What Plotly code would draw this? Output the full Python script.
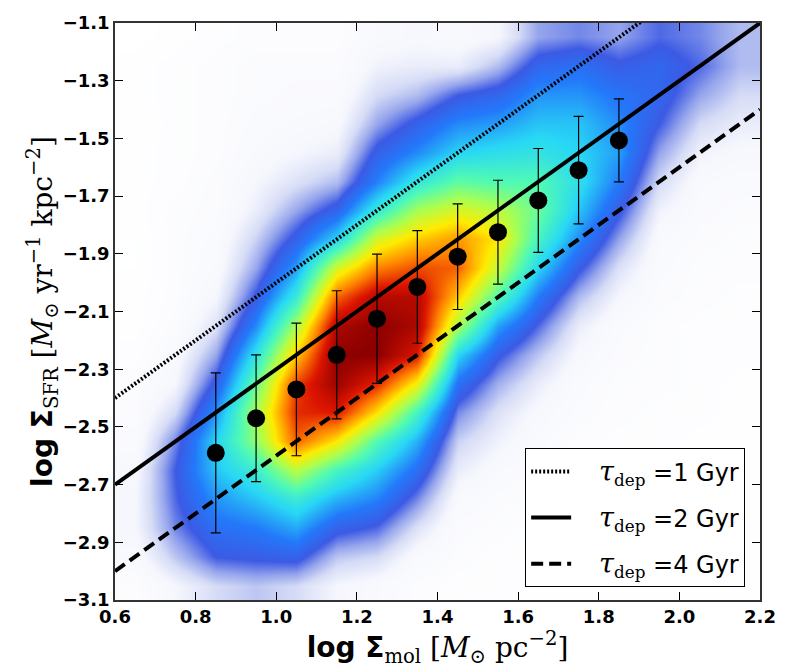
import plotly.graph_objects as go

# ---- density of the scatter cloud (levels 0..10) ----
# cell centres
grid_x = [0.65, 0.75, 0.85, 0.95, 1.05, 1.15, 1.25, 1.35, 1.45, 1.55, 1.65, 1.75, 1.85, 1.95, 2.05, 2.15]
grid_y_top_down = [-1.15, -1.25, -1.35, -1.45, -1.55, -1.65, -1.75, -1.85, -1.95, -2.05,
                   -2.15, -2.25, -2.35, -2.45, -2.55, -2.65, -2.75, -2.85, -2.95, -3.05]
# one list per column (top -> bottom)
col_065 = [0, 0.1, 0.1, 0.05, 0.1, 0.1, 0.1, 0.05, 0.05, 0.1, 0.1, 0.2, 0.3, 0.4, 0.5, 0.7, 0.8, 0.8, 0.6, 0.3]
col_075 = [0.1, 0.2, 0.2, 0.2, 0.2, 0.2, 0.3, 0.3, 0.3, 0.3, 0.4, 0.6, 0.8, 1.3, 2.0, 2.3, 2.2, 2.0, 1.5, 0.8]
col_085 = [0.2, 0.3, 0.3, 0.3, 0.3, 0.4, 0.4, 0.5, 0.6, 0.8, 1.2, 1.8, 2.5, 3.3, 4.0, 3.8, 3.3, 2.8, 2.3, 1.3]
col_095 = [0.3, 0.4, 0.4, 0.5, 0.6, 0.8, 1.0, 1.4, 1.8, 2.4, 3.2, 4.3, 5.3, 6.0, 5.7, 4.6, 3.8, 3.0, 2.4, 1.5]
col_105 = [0.3, 0.4, 0.5, 0.6, 0.8, 1.2, 1.8, 2.5, 3.4, 4.5, 6.0, 7.3, 8.6, 8.8, 8.3, 6.2, 4.5, 3.5, 2.5, 1.3]
col_115 = [0.3, 0.4, 0.5, 0.7, 1.0, 1.6, 2.6, 4.0, 6.5, 8.3, 9.6, 10, 9.8, 9.0, 7.0, 4.8, 3.6, 2.5, 1.5, 0.8]
col_125 = [0.6, 0.9, 1.3, 1.8, 2.5, 3.1, 4.5, 6.5, 8.0, 9.5, 10, 10, 8.8, 7.1, 5.0, 3.9, 3.1, 2.2, 1.3, 0.6]
col_135 = [0.7, 1.0, 1.6, 2.5, 3.2, 4.4, 6.0, 7.3, 8.5, 9.5, 9.6, 9.0, 6.8, 4.8, 3.6, 2.8, 2.0, 1.2, 0.6, 0.3]
col_145 = [0.6, 1.0, 2.3, 3.2, 4.0, 5.2, 6.6, 7.8, 8.3, 7.3, 6.0, 4.0, 2.8, 2.0, 1.4, 1.0, 0.6, 0.4, 0.3, 0.2]
col_155 = [0.8, 1.6, 2.6, 3.4, 4.2, 5.0, 6.2, 7.0, 6.3, 5.0, 3.4, 2.4, 1.7, 1.2, 0.9, 0.6, 0.4, 0.3, 0.2, 0.2]
col_165 = [1.8, 2.6, 3.3, 3.8, 4.3, 5.0, 5.3, 4.8, 4.0, 3.0, 2.2, 1.5, 1.0, 0.7, 0.5, 0.4, 0.3, 0.2, 0.2, 0.1]
col_175 = [2.0, 2.8, 3.3, 3.8, 4.0, 4.2, 3.8, 3.2, 2.4, 1.6, 1.0, 0.7, 0.5, 0.4, 0.3, 0.2, 0.2, 0.1, 0.1, 0.1]
col_185 = [1.8, 2.4, 2.9, 3.2, 3.4, 3.0, 2.4, 1.8, 1.2, 0.8, 0.5, 0.4, 0.3, 0.3, 0.2, 0.2, 0.1, 0.1, 0.1, 0.1]
col_195 = [2.2, 2.6, 2.6, 2.3, 1.8, 1.3, 0.9, 0.6, 0.5, 0.4, 0.3, 0.3, 0.3, 0.2, 0.2, 0.2, 0.1, 0.1, 0.1, 0.1]
col_205 = [2.0, 2.2, 1.8, 1.3, 0.9, 0.6, 0.5, 0.4, 0.3, 0.3, 0.2, 0.2, 0.2, 0.2, 0.1, 0.1, 0.1, 0.1, 0.1, 0.1]
col_215 = [1.6, 1.6, 1.3, 1.0, 0.7, 0.5, 0.4, 0.3, 0.3, 0.2, 0.2, 0.2, 0.1, 0.1, 0.1, 0.1, 0.1, 0.1, 0.1, 0.1]

columns = [col_065, col_075, col_085, col_095, col_105, col_115, col_125, col_135,
           col_145, col_155, col_165, col_175, col_185, col_195, col_205, col_215]

# ---- binned means with 1-sigma scatter ----
bin_x = [0.85, 0.95, 1.05, 1.15, 1.25, 1.35, 1.45, 1.55, 1.65, 1.75, 1.85]
bin_y = [-2.59, -2.47, -2.37, -2.25, -2.125, -2.015, -1.91, -1.825, -1.715, -1.61, -1.507]
bin_err = [0.277, 0.22, 0.23, 0.222, 0.224, 0.195, 0.183, 0.18, 0.18, 0.186, 0.144]

# ---- constant depletion time lines (end points) ----
line_x = [0.6, 2.2]
tau1_y = [-2.40, -0.80]
tau2_y = [-2.70, -1.10]
tau4_y = [-3.00, -1.40]

x_ticks = [0.6, 0.8, 1.0, 1.2, 1.4, 1.6, 1.8, 2.0, 2.2]
x_tick_labels = ["0.6", "0.8", "1.0", "1.2", "1.4", "1.6", "1.8", "2.0", "2.2"]
y_ticks = [-3.1, -2.9, -2.7, -2.5, -2.3, -2.1, -1.9, -1.7, -1.5, -1.3, -1.1]
y_tick_labels = ["−3.1", "−2.9", "−2.7", "−2.5", "−2.3", "−2.1", "−1.9", "−1.7", "−1.5", "−1.3", "−1.1"]

# build heatmap table (bottom -> top rows)
rows_top_down = [list(r) for r in zip(*columns)]
z = rows_top_down[::-1]
grid_y = grid_y_top_down[::-1]

colorscale = [
    [0.00, "rgb(255,255,255)"],
    [0.08, "rgb(246,247,253)"],
    [0.13, "rgb(214,220,246)"],
    [0.18, "rgb(150,165,236)"],
    [0.23, "rgb(60,90,228)"],
    [0.30, "rgb(35,120,250)"],
    [0.40, "rgb(40,215,245)"],
    [0.50, "rgb(80,250,180)"],
    [0.60, "rgb(170,255,80)"],
    [0.70, "rgb(255,235,0)"],
    [0.80, "rgb(255,130,0)"],
    [0.90, "rgb(220,20,0)"],
    [1.00, "rgb(140,0,0)"],
]

fig = go.Figure()
fig.add_trace(go.Heatmap(x=grid_x, y=grid_y, z=z, zmin=0, zmax=10, zsmooth="best",
                         colorscale=colorscale, showscale=False, hoverinfo="skip",
                         showlegend=False))

tau_label = ("\u00a0\u00a0\u00a0<span style='font-family:DejaVu Serif;font-size:27px'><i>τ</i></span>"
             "<span style='font-family:DejaVu Serif'><sub>dep</sub></span> =%s Gyr")
fig.add_trace(go.Scatter(x=line_x, y=tau1_y, mode="lines", name=tau_label % "1",
                         legendgroup="a", line=dict(color="black", width=4, dash="2px,2px")))
fig.add_trace(go.Scatter(x=line_x, y=tau2_y, mode="lines", name=tau_label % "2",
                         legendgroup="b", line=dict(color="black", width=4)))
fig.add_trace(go.Scatter(x=line_x, y=tau4_y, mode="lines", name=tau_label % "4",
                         legendgroup="c", line=dict(color="black", width=4, dash="12px,6px")))

fig.add_trace(go.Scatter(x=bin_x, y=bin_y, mode="markers", showlegend=False,
                         marker=dict(color="black", size=18),
                         error_y=dict(type="data", array=bin_err, symmetric=True,
                                      color="black", thickness=1.2, width=5)))

axis_common = dict(showline=True, mirror="ticks", linecolor="#333", linewidth=1.5,
                   ticks="inside", ticklen=8, tickwidth=1, tickcolor="black",
                   showgrid=False, zeroline=False,
                   tickfont=dict(family="DejaVu Sans", size=18, color="black"))

fig.update_xaxes(range=[0.6, 2.2], tickvals=x_ticks,
                 ticktext=["<b>%s</b>" % t for t in x_tick_labels],
                 title=dict(text="<b>log Σ</b><span style='font-family:DejaVu Serif'><sub>mol</sub> [<i>M</i><sub>⊙</sub> pc<sup>−2</sup>]</span>",
                            font=dict(family="DejaVu Sans", size=28, color="black"), standoff=4),
                 **axis_common)
fig.update_yaxes(range=[-3.1, -1.1], tickvals=y_ticks,
                 ticktext=["<b>%s</b>" % t for t in y_tick_labels],
                 title=dict(text="<b>log Σ</b><span style='font-family:DejaVu Serif'><sub>SFR</sub> [<i>M</i><sub>⊙</sub> yr<sup>−1</sup> kpc<sup>−2</sup>]</span>",
                            font=dict(family="DejaVu Sans", size=28, color="black"), standoff=2),
                 **axis_common)

fig.update_layout(
    width=788, height=671,
    margin=dict(l=115, r=22, t=20, b=71),
    paper_bgcolor="white", plot_bgcolor="white",
    legend=dict(x=0.977, xanchor="right", y=0.022, yanchor="bottom",
                bgcolor="white", bordercolor="black", borderwidth=1,
                font=dict(family="DejaVu Sans", size=24, color="black"),
                tracegroupgap=12, itemwidth=40),
)

fig.write_html("out.html")
